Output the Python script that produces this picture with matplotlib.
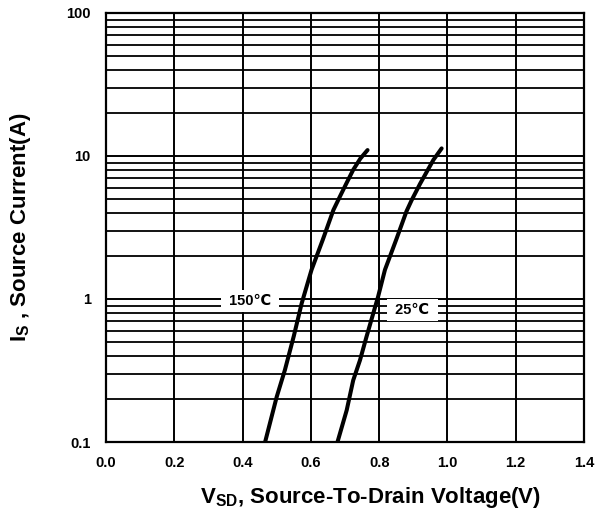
import matplotlib
matplotlib.use("Agg")
import matplotlib.pyplot as plt
from matplotlib.ticker import LogLocator, NullFormatter

plt.rcParams['font.family'] = ['Liberation Sans', 'DejaVu Sans']
plt.rcParams['mathtext.fontset'] = 'custom'
plt.rcParams['mathtext.rm'] = 'Liberation Sans'
plt.rcParams['mathtext.bf'] = 'Liberation Sans:bold'

# 150C curve
vsd_150 = [0.466, 0.500, 0.524, 0.550, 0.573, 0.602, 0.635, 0.666, 0.685, 0.705, 0.724, 0.745, 0.766]
is_150 = [0.1, 0.207, 0.319, 0.55, 0.93, 1.6, 2.6, 4.19, 5.2, 6.5, 8.0, 9.6, 11.0]

# 25C curve
vsd_25 = [0.678, 0.705, 0.724, 0.744, 0.763, 0.797, 0.817, 0.850, 0.880, 0.895, 0.920, 0.959, 0.983]
is_25 = [0.1, 0.167, 0.27, 0.374, 0.545, 1.04, 1.6, 2.6, 4.1, 4.9, 6.4, 9.4, 11.3]

xticks = [0.0, 0.2, 0.4, 0.6, 0.8, 1.0, 1.2, 1.4]
yticks = [0.1, 1, 10, 100]
ytick_labels = ["0.1", "1", "10", "100"]

fig = plt.figure(figsize=(6.04, 5.13), dpi=100)
ax = fig.add_axes([0.1755, 0.1384, 0.7914, 0.8363])

ax.set_yscale('log')
ax.set_xlim(0, 1.4)
ax.set_ylim(0.1, 100)

ax.set_xticks(xticks)
ax.set_xticklabels([f"{t:.1f}" for t in xticks], fontsize=10.5, fontweight='bold')
ax.set_yticks(yticks)
ax.set_yticklabels(ytick_labels, fontsize=10.5, fontweight='bold')
ax.yaxis.set_minor_locator(LogLocator(base=10, subs=range(2, 10)))
ax.yaxis.set_minor_formatter(NullFormatter())
ax.tick_params(which='both', length=0)
ax.tick_params(axis='x', pad=10)
ax.tick_params(axis='y', pad=11)

ax.grid(True, which='major', color='black', linewidth=1.4)
ax.grid(True, which='minor', axis='y', color='black', linewidth=1.3)
ax.set_axisbelow(True)
for s in ax.spines.values():
    s.set_linewidth(1.6)

ax.plot(vsd_150, is_150, color='black', linewidth=2.9, solid_capstyle='round', zorder=4)
ax.plot(vsd_25, is_25, color='black', linewidth=2.9, solid_capstyle='round', zorder=4)

box = dict(facecolor='white', edgecolor='none', boxstyle='square,pad=0.28')
ax.text(0.422, 0.97, " 150℃ ", fontsize=10.5, fontweight='bold', ha='center', va='center',
        bbox=box, zorder=3)
ax.text(0.898, 0.84, " 25℃ ", fontsize=10.5, fontweight='bold', ha='center', va='center',
        bbox=box, zorder=3)

ax.set_xlabel(r"$\mathbf{V_{SD}}$, Source-To-Drain Voltage(V)", fontsize=16, fontweight='bold')
ax.xaxis.set_label_coords(0.554, -0.100)
ax.set_ylabel(r"$\mathbf{I_{S}}$ , Source Current(A)", fontsize=16, fontweight='bold')
ax.yaxis.set_label_coords(-0.153, 0.5)

fig.savefig("out.png", dpi=100)
